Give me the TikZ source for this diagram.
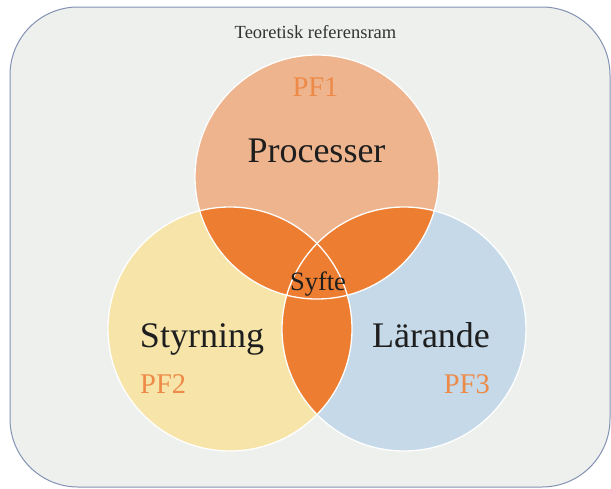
\documentclass[tikz,border=0pt]{standalone}
\usepackage{fontspec}
\setmainfont{Liberation Serif}
\definecolor{frameedge}{HTML}{8392B4}
\definecolor{framefill}{HTML}{EEF0ED}
\definecolor{procfill}{HTML}{EDB48E}
\definecolor{styrfill}{HTML}{F6E4A9}
\definecolor{larfill}{HTML}{C5D9E8}
\definecolor{overlap}{HTML}{ED7D31}
\definecolor{pflabel}{HTML}{EE8A47}
\definecolor{maintext}{HTML}{1E1E1E}
\newcommand{\fsz}[1]{\fontsize{#1}{#1}\selectfont}
\tikzset{
  frame/.style={draw=frameedge, line width=1pt, fill=framefill, rounded corners=68pt},
  rim/.style={draw=white, line width=1.3pt},
  bigtext/.style={anchor=base, inner sep=0pt, text=maintext, font=\fsz{36}},
  pftext/.style={anchor=base, inner sep=0pt, text=pflabel, font=\fsz{28.5}},
  centertext/.style={anchor=base, inner sep=0pt, text=maintext, font=\fsz{26.5}},
  titletext/.style={anchor=base, inner sep=0pt, text=black!80, font=\fsz{18.5}}
}
\begin{document}
\begin{tikzpicture}[x=1pt, y=-1pt]
  \useasboundingbox (0,0) rectangle (611,488);
  % outer frame
  \draw[frame] (10,7) rectangle (610,487);

  % circle centres
  \coordinate (cP) at (317,177);
  \coordinate (cS) at (230,329);
  \coordinate (cL) at (404,329);
  \def\rad{122}

  % the three sets
  \fill[procfill] (cP) circle[radius=\rad];
  \fill[styrfill] (cS) circle[radius=\rad];
  \fill[larfill]  (cL) circle[radius=\rad];

  % pairwise overlaps
  \begin{scope}
    \clip (cP) circle[radius=\rad];
    \fill[overlap] (cS) circle[radius=\rad];
    \fill[overlap] (cL) circle[radius=\rad];
  \end{scope}
  \begin{scope}
    \clip (cS) circle[radius=\rad];
    \fill[overlap] (cL) circle[radius=\rad];
  \end{scope}

  % white rims
  \draw[rim] (cP) circle[radius=\rad];
  \draw[rim] (cS) circle[radius=\rad];
  \draw[rim] (cL) circle[radius=\rad];

  % labels
  \node[titletext] (title) at (315.5,38) {Teoretisk referensram};
  \node[pftext] (pf1) at (315.5,96) {PF1};
  \node[bigtext] (proc) at (316.5,162) {Processer};
  \node[centertext] (syfte) at (318,290) {Syfte};
  \node[bigtext] (styr) at (202,347) {Styrning};
  \node[bigtext] (lar) at (431,347) {Lärande};
  \node[pftext, anchor=base west] (pf2) at (140,393) {PF2};
  \node[pftext, anchor=base east] (pf3) at (490,393) {PF3};
\end{tikzpicture}
\end{document}
